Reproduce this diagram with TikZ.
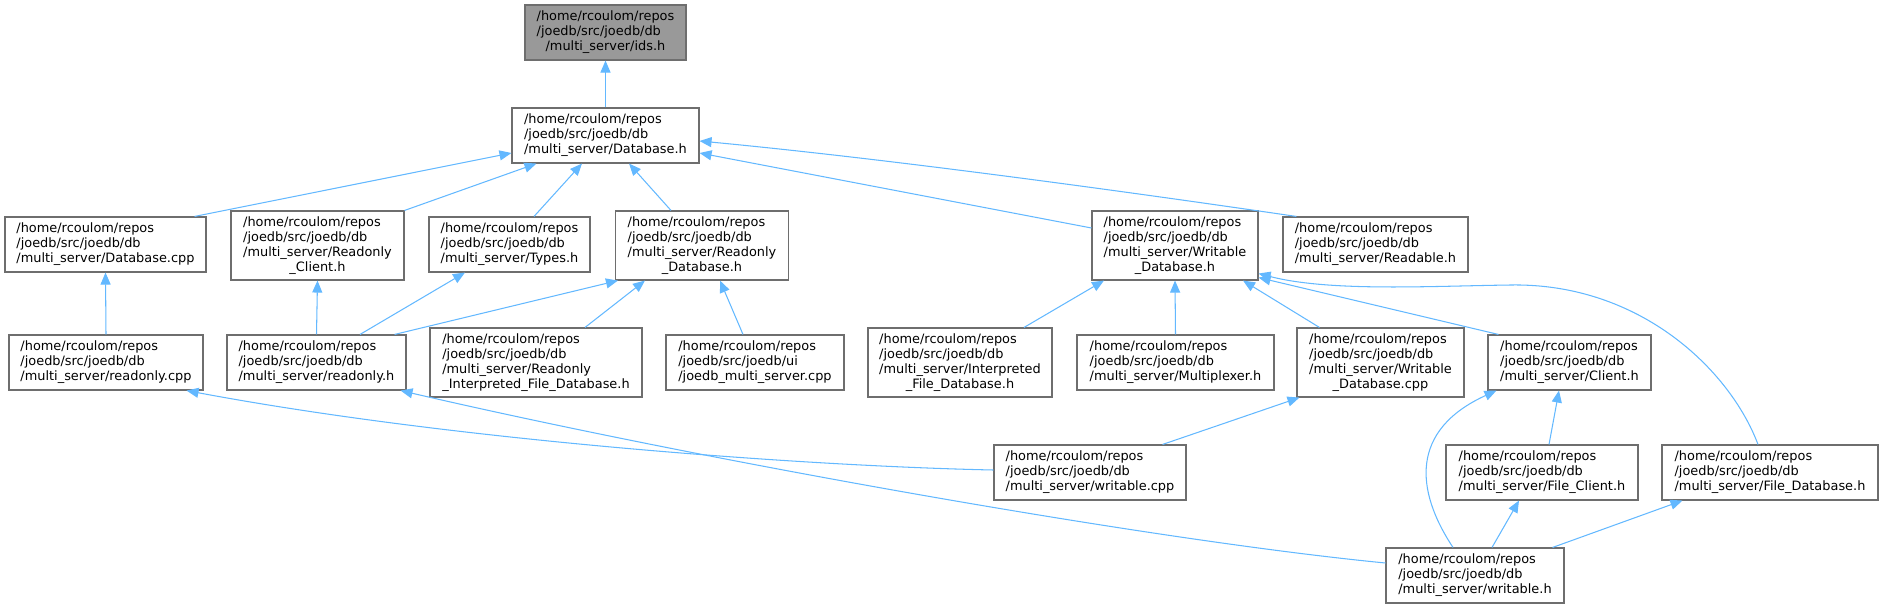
\documentclass[tikz,border=0pt]{standalone}
\usepackage{fontspec}
\newfontfamily\dvs{DejaVu Sans}
\usetikzlibrary{arrows.meta,calc}
\definecolor{edgec}{HTML}{63B8FF}
\definecolor{bordc}{HTML}{6E6E6E}
\definecolor{idsfill}{HTML}{999999}
\newcommand\lbl[2]{\begin{tabular}{@{}l@{}}#1\\\multicolumn{1}{@{}c@{}}{#2}\end{tabular}}
\begin{document}
\begin{tikzpicture}[x=1pt,y=-1pt,
  nd/.style={draw=bordc, line width=1.1pt, fill=white, inner sep=0pt,
    font=\dvs\fontsize{12.9}{15}\selectfont, text=black},
  edge/.style={draw=edgec, line width=1.05pt, -{Triangle[length=12pt,width=10pt]}}]
\useasboundingbox (0,0) rectangle (1883,608);
\def\hr{/home/rcoulom/repos\\/joedb/src/joedb/db}
% nodes
\node[nd, fill=idsfill, minimum width=161pt, minimum height=55pt] (ids) at (605.5,32.5) {\lbl{\hr}{/multi\_server/ids.h}};
\node[nd, minimum width=187pt, minimum height=55pt] (dbh) at (605.5,135.5) {\lbl{\hr}{/multi\_server/Database.h}};
\node[nd, minimum width=201pt, minimum height=55pt] (dbcpp) at (105.5,244.5) {\lbl{\hr}{/multi\_server/Database.cpp}};
\node[nd, minimum width=173pt, minimum height=69pt] (roclient) at (317.5,245.5) {\lbl{\hr\\/multi\_server/Readonly}{\_Client.h}};
\node[nd, minimum width=161pt, minimum height=55pt] (types) at (509.5,244.5) {\lbl{\hr}{/multi\_server/Types.h}};
\node[nd, minimum width=173pt, minimum height=69pt] (rodb) at (702,245.5) {\lbl{\hr\\/multi\_server/Readonly}{\_Database.h}};
\node[nd, minimum width=166pt, minimum height=69pt] (wdb) at (1175,245.5) {\lbl{\hr\\/multi\_server/Writable}{\_Database.h}};
\node[nd, minimum width=185pt, minimum height=55pt] (readable) at (1375.5,244.5) {\lbl{\hr}{/multi\_server/Readable.h}};
\node[nd, minimum width=194pt, minimum height=55pt] (rocpp) at (106,362.5) {\lbl{\hr}{/multi\_server/readonly.cpp}};
\node[nd, minimum width=179pt, minimum height=55pt] (roh) at (316.5,362.5) {\lbl{\hr}{/multi\_server/readonly.h}};
\node[nd, minimum width=212pt, minimum height=69pt] (roifdb) at (536,362.5) {\lbl{\hr\\/multi\_server/Readonly}{\_Interpreted\_File\_Database.h}};
\node[nd, minimum width=178pt, minimum height=55pt] (jms) at (755,362.5) {\lbl{/home/rcoulom/repos\\/joedb/src/joedb/ui}{/joedb\_multi\_server.cpp}};
\node[nd, minimum width=184pt, minimum height=69pt] (ifdb) at (960,362.5) {\lbl{\hr\\/multi\_server/Interpreted}{\_File\_Database.h}};
\node[nd, minimum width=197pt, minimum height=55pt] (mux) at (1175.5,362.5) {\lbl{\hr}{/multi\_server/Multiplexer.h}};
\node[nd, minimum width=167pt, minimum height=69pt] (wdbcpp) at (1380.5,362.5) {\lbl{\hr\\/multi\_server/Writable}{\_Database.cpp}};
\node[nd, minimum width=163pt, minimum height=55pt] (client) at (1569.5,362.5) {\lbl{\hr}{/multi\_server/Client.h}};
\node[nd, minimum width=192pt, minimum height=55pt] (wcpp) at (1090,472.5) {\lbl{\hr}{/multi\_server/writable.cpp}};
\node[nd, minimum width=192pt, minimum height=55pt] (fclient) at (1542,472.5) {\lbl{\hr}{/multi\_server/File\_Client.h}};
\node[nd, minimum width=216pt, minimum height=55pt] (fdb) at (1770,472.5) {\lbl{\hr}{/multi\_server/File\_Database.h}};
\node[nd, minimum width=178pt, minimum height=55pt] (wh) at (1475,575.5) {\lbl{\hr}{/multi\_server/writable.h}};
% edges
\draw[edge] (dbh.north) -- (ids.south);
\draw[edge] ($(dbcpp.north east)+(-12,0)$) -- ($(dbh.west)+(0,17.5)$);
\draw[edge] (roclient.north east) -- ($(dbh.south west)+(25,0)$);
\draw[edge] ($(types.north)+(24.5,0)$) -- ($(dbh.south)+(-23.5,0)$);
\draw[edge] ($(rodb.north)+(-31,0)$) -- ($(dbh.south)+(23.5,0)$);
\draw[edge] ($(wdb.west)+(0,-17.5)$) -- ($(dbh.east)+(0,17.5)$);
\draw[edge] ($(readable.north west)+(14,0)$) .. controls (1150,195) and (900,160) .. ($(dbh.east)+(0,5.5)$);
\draw[edge] (rocpp.north) -- (dbcpp.south);
\draw[edge] (roh.north) -- (roclient.south);
\draw[edge] ($(roh.north)+(43.5,0)$) -- ($(types.south)+(-44.5,0)$);
\draw[edge] ($(roh.north east)+(-12,0)$) -- ($(rodb.south west)+(3,0)$);
\draw[edge] ($(roifdb.north)+(49,0)$) -- ($(rodb.south)+(-57,0)$);
\draw[edge] ($(jms.north)+(-12,0)$) -- ($(rodb.south)+(18,0)$);
\draw[edge] ($(ifdb.north)+(64,0)$) -- ($(wdb.south)+(-71,0)$);
\draw[edge] (mux.north) -- (wdb.south);
\draw[edge] ($(wdbcpp.north west)+(23,0)$) -- ($(wdb.south)+(68,0)$);
\draw[edge] ($(client.north west)+(11,0)$) -- ($(wdb.south east)+(0,-3)$);
\draw[edge] ($(fdb.north)+(-12,0)$) .. controls (1730,370) and (1640,283) .. (1511,285)
   .. controls (1431,286) and (1330,292) .. ($(wdb.south east)+(0,-7)$);
\draw[edge] ($(wcpp.west)+(0,-2.5)$) .. controls (800,466) and (450,440) .. ($(rocpp.south east)+(-17,0)$);
\draw[edge] ($(wh.west)+(0,-12.5)$) .. controls (1150,540) and (700,460) .. ($(roh.south east)+(-6,0)$);
\draw[edge] ($(wcpp.north east)+(-24,0)$) -- ($(wdbcpp.south west)+(3,0)$);
\draw[edge] ($(fclient.north)+(7,0)$) -- ($(client.south)+(-10.5,0)$);
\draw[edge] ($(wh.north)+(-22,0)$) .. controls (1415,490) and (1410,430) .. ($(client.south west)+(9,0)$);
\draw[edge] ($(wh.north)+(17,0)$) -- ($(fclient.south)+(-23,0)$);
\draw[edge] ($(wh.north east)+(-12,0)$) -- ($(fdb.south west)+(21,0)$);
\end{tikzpicture}
\end{document}
